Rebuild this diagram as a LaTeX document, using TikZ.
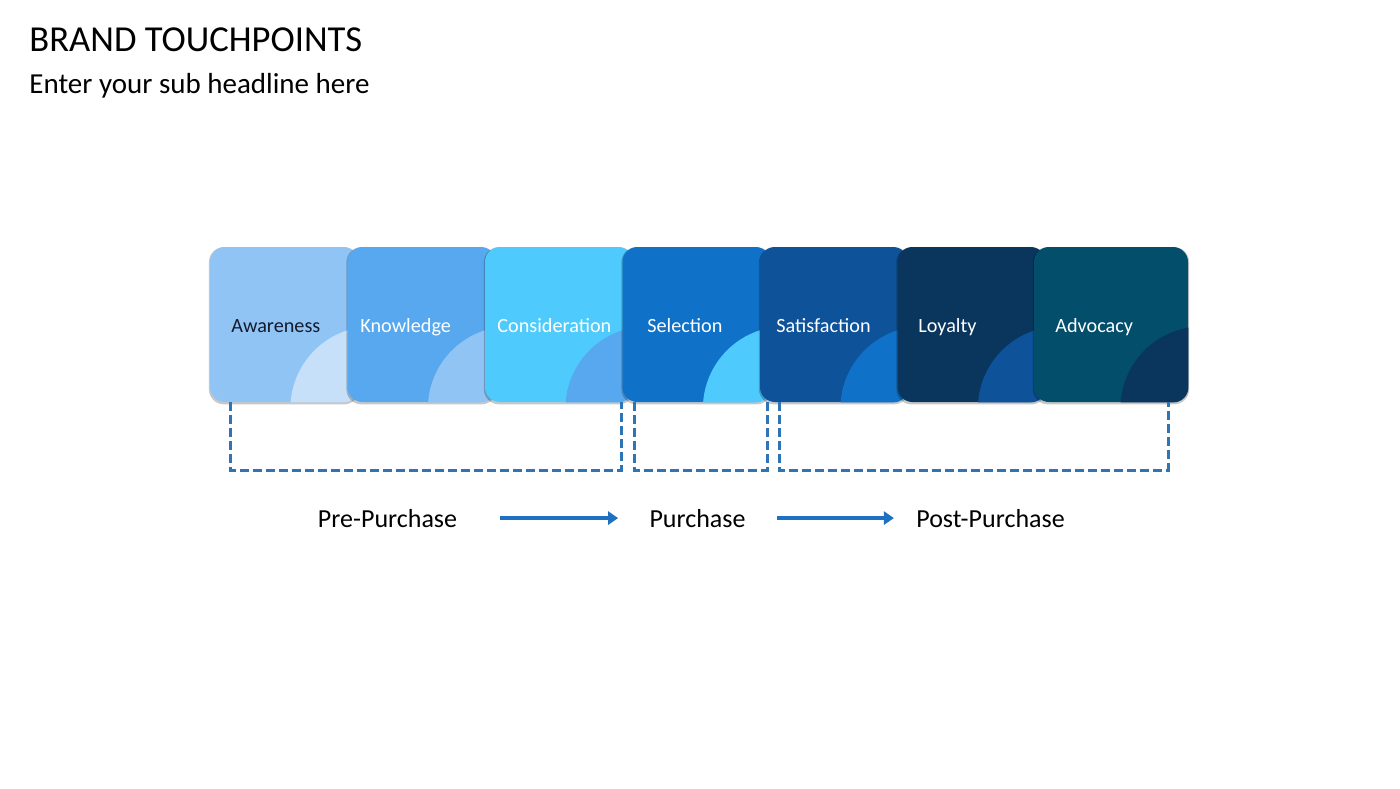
\documentclass[tikz,border=0pt]{standalone}
\usepackage{fontspec}
\setmainfont{Carlito}
\usetikzlibrary{arrows.meta,shadows}
\definecolor{f1}{HTML}{90C4F5}
\definecolor{f2}{HTML}{57A8EE}
\definecolor{f3}{HTML}{4ECBFC}
\definecolor{f4}{HTML}{1071C8}
\definecolor{f5}{HTML}{0E5299}
\definecolor{f6}{HTML}{0A365E}
\definecolor{f7}{HTML}{034E6B}
\definecolor{a1}{HTML}{C5E0F8}
\definecolor{bracketcol}{HTML}{2E75B6}
\definecolor{arrowcol}{HTML}{1F70C1}
\definecolor{darktext}{HTML}{141B2D}
\begin{document}
\begin{tikzpicture}[x=0.5pt,y=-0.5pt,
  tp/.style={minimum height=77.5pt,rounded corners=7.5pt,inner sep=0pt,
    drop shadow={shadow xshift=0pt,shadow yshift=-0.6pt,shadow scale=1.015,opacity=0.22,fill=black}},
  tt/.style={font=\fontsize{10.1pt}{12pt}\selectfont,inner sep=0pt,anchor=base west},
  phase/.style={font=\fontsize{13pt}{15pt}\selectfont,inner sep=0pt,anchor=base},
  bracket/.style={draw=bracketcol,line width=1.5pt,dash pattern=on 4.5pt off 2pt},
  arr/.style={draw=arrowcol,line width=2pt,-{Triangle[length=5pt,width=6.5pt]}}]
\useasboundingbox[fill=white] (0,0) rectangle (1400,788);
\node[inner sep=0pt,anchor=base west,font=\fontsize{18.3pt}{21pt}\selectfont] (title) at (29,51) {BRAND TOUCHPOINTS};
\node[inner sep=0pt,anchor=base west,font=\fontsize{14.5pt}{18pt}\selectfont] (sub) at (29,93) {Enter your sub headline here};
\foreach \i/\x/\w/\tx/\fc/\ac/\tc/\txt in {
  1/284/74/231/f1/a1/darktext/Awareness,
  2/421.5/74/360/f2/f1/white/Knowledge,
  3/559/74/497/f3/f2/white/Consideration,
  4/696.5/74/647/f4/f3/white/Selection,
  5/834/74/776/f5/f4/white/Satisfaction,
  6/971.5/74/918/f6/f5/white/Loyalty,
  7/1111/77/1055/f7/f6/white/Advocacy}{
  \node[tp,fill=\fc,minimum width=\w pt] (b\i) at (\x,324.5) {};
  \begin{scope}
    \clip[rounded corners=7.5pt] (b\i.south west) rectangle (b\i.north east);
    \fill[\ac] ([shift={(14,6)}]b\i.south east) circle[radius=41pt];
  \end{scope}
  \node[tt,text=\tc] (t\i) at (\tx,332) {\txt};
}
% brackets
\coordinate (p1a) at (230,402);
\coordinate (p1b) at (621,402);
\coordinate (p2a) at (634,402);
\coordinate (p2b) at (767,402);
\coordinate (p3a) at (779,402);
\coordinate (p3b) at (1168,402);
\draw[bracket] (p1a) -- ++(0,68) -| (p1b);
\draw[bracket] (p2a) -- ++(0,68) -| (p2b);
\draw[bracket] (p3a) -- ++(0,68) -| (p3b);
% phases
\node[phase] (pre) at (387.5,527) {Pre-Purchase};
\node[phase] (pur) at (697.5,527) {Purchase};
\node[phase] (post) at (990.5,527) {Post-Purchase};
\draw[arr] ([xshift=21.5pt]pre.east) -- ([xshift=-15.5pt]pur.west);
\draw[arr] ([xshift=15.5pt]pur.east) -- ([xshift=-11pt]post.west);
\end{tikzpicture}
\end{document}
